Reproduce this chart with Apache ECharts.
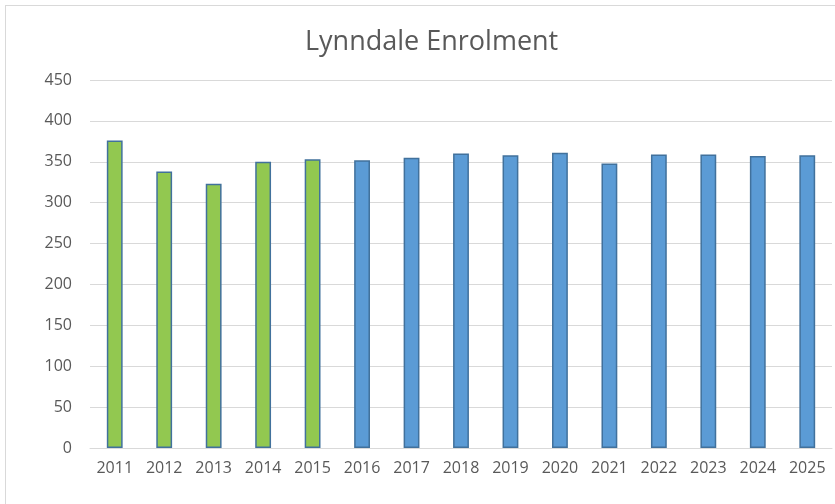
<html>
<head>
    <meta charset="UTF-8">
    <title>Lynndale Enrolment</title>
    <script src="https://cdn.jsdelivr.net/npm/echarts@6/dist/echarts.min.js"></script>
    <style>
        body { margin: 0; background: #fff; }
        #frame { position: absolute; left: 5px; top: 5px; width: 840px; height: 510px; border: 1px solid #d9d9d9; }
        #container { position: absolute; left: 0; top: 0; width: 835px; height: 504px; }
    </style>
</head>
<body>
    <div id="frame"></div>
    <div id="container"></div>
<script>
    // enrolment by year; first 5 are actual (green), rest projected (blue)
    var years = ['2011', '2012', '2013', '2014', '2015', '2016', '2017', '2018',
                 '2019', '2020', '2021', '2022', '2023', '2024', '2025'];
    var enrolment = [376, 338, 323, 350, 353, 352, 355, 360, 358, 361, 348, 359, 359, 357, 358];
    var actualCount = 5;

    var mycharts = echarts.init(document.getElementById('container'));

    var barData = [];
    for (var i = 0; i < enrolment.length; i++) {
        barData.push({
            value: enrolment[i],
            itemStyle: { color: i < actualCount ? '#92c850' : '#5b9bd5' }
        });
    }

    var option = {
        animation: false,
        title: {
            text: 'Lynndale Enrolment',
            left: 300,
            top: 24,
            textStyle: { fontFamily: 'Open Sans', fontWeight: 'normal', fontSize: 27, color: '#595959' }
        },
        grid: { left: 90, right: 3, top: 80, bottom: 56 },
        xAxis: {
            type: 'category',
            data: years,
            axisLine: { lineStyle: { color: '#d9d9d9', width: 1 } },
            axisTick: { show: false },
            axisLabel: { color: '#595959', fontFamily: 'Open Sans', fontSize: 16, margin: 12 }
        },
        yAxis: {
            type: 'value',
            min: 0,
            max: 450,
            interval: 50,
            axisLine: { show: false },
            axisTick: { show: false },
            splitLine: { lineStyle: { color: '#d9d9d9' } },
            axisLabel: { color: '#595959', fontFamily: 'Open Sans', fontSize: 16, margin: 18 }
        },
        series: [{
            type: 'bar',
            barWidth: '32%',
            data: barData,
            itemStyle: { borderColor: '#41719c', borderWidth: 1.5 }
        }]
    };
    mycharts.setOption(option);
</script>
</body>
</html>
